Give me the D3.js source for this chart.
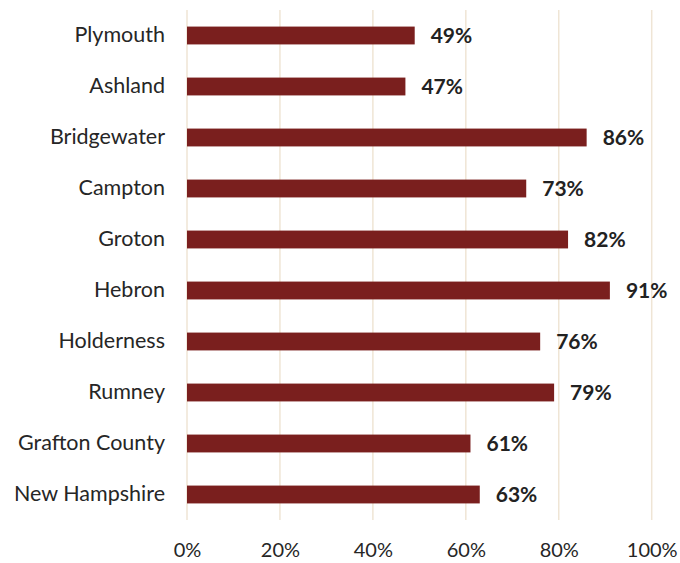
<!DOCTYPE html>
<html>
<head>
<meta charset="utf-8">
<script src="https://cdn.jsdelivr.net/npm/d3@7"></script>
<style>
  body { margin: 0; background: #fff; }
  svg text { font-family: Lato, "Open Sans", sans-serif; }
</style>
</head>
<body>
<div id="chart"></div>
<script>
let towns = ['Plymouth', 'Ashland', 'Bridgewater', 'Campton', 'Groton', 'Hebron',
    'Holderness', 'Rumney', 'Grafton County', 'New Hampshire'];
let shares = [0.49, 0.47, 0.86, 0.73, 0.82, 0.91, 0.76, 0.79, 0.61, 0.63];
let tickValues = [0, 0.2, 0.4, 0.6, 0.8, 1.0];

let data = towns.map((t, i) => ({ town: t, value: shares[i] }));

function getConfiguration() {
    let width = 680, height = 563;
    let margin = { top: 10, right: 28, bottom: 43, left: 187 };
    let chartWidth = width - margin.left - margin.right;
    let chartHeight = height - margin.top - margin.bottom;
    let svg = d3.select('#chart').append('svg')
        .attr('width', width)
        .attr('height', height);
    let chart = svg.append('g')
        .attr('transform', `translate(${margin.left},${margin.top})`);
    return { width, height, margin, chartWidth, chartHeight, chart };
}

function createScaler(config) {
    let { chartWidth, chartHeight } = config;
    let xScaler = d3.scaleLinear().domain([0, 1]).range([0, chartWidth - 0.3]);
    let yScaler = d3.scaleBand()
        .domain(towns)
        .range([0, chartHeight])
        .paddingInner(0.65)
        .paddingOuter(0.325);
    return { xScaler, yScaler };
}

function drawGrid(config, xScaler) {
    let { chart, chartHeight } = config;
    chart.append('g').attr('class', 'grid')
        .selectAll('line')
        .data(tickValues)
        .enter()
        .append('line')
        .attr('x1', d => xScaler(d))
        .attr('x2', d => xScaler(d))
        .attr('y1', 0)
        .attr('y2', chartHeight)
        .attr('stroke', '#efe5d5')
        .attr('stroke-width', 1.5);
}

function drawAxes(config, xScaler, yScaler) {
    let { chart, chartHeight } = config;
    let xAxis = d3.axisBottom(xScaler)
        .tickValues(tickValues)
        .tickFormat(d3.format('.0%'))
        .tickSize(0)
        .tickPadding(23);
    let gx = chart.append('g').attr('class', 'x-axis')
        .attr('transform', `translate(0,${chartHeight})`)
        .call(xAxis);
    gx.select('.domain').remove();
    gx.selectAll('text').attr('font-size', 20).attr('fill', '#262626')
        .style('font-family', 'Lato, sans-serif');

    let yAxis = d3.axisLeft(yScaler).tickSize(0).tickPadding(22);
    let gy = chart.append('g').attr('class', 'y-axis').call(yAxis);
    gy.select('.domain').remove();
    gy.selectAll('text').attr('font-size', 21.5).attr('fill', '#262626')
        .style('font-family', 'Lato, sans-serif');
}

function drawBars(config, xScaler, yScaler) {
    let { chart } = config;
    let barGroup = chart.append('g').attr('class', 'bars');
    barGroup.selectAll('rect')
        .data(data)
        .enter()
        .append('rect')
        .attr('x', xScaler(0))
        .attr('y', d => yScaler(d.town))
        .attr('width', d => xScaler(d.value) - xScaler(0))
        .attr('height', yScaler.bandwidth())
        .attr('fill', '#7a1f1e');

    barGroup.selectAll('text.val')
        .data(data)
        .enter()
        .append('text')
        .attr('class', 'val')
        .attr('x', d => xScaler(d.value) + 16)
        .attr('y', d => yScaler(d.town) + yScaler.bandwidth() / 2)
        .attr('dy', '0.35em')
        .attr('font-size', 21)
        .attr('font-weight', 'bold')
        .attr('fill', '#222')
        .text(d => d3.format('.0%')(d.value));
}

let config = getConfiguration();
let { xScaler, yScaler } = createScaler(config);
drawGrid(config, xScaler);
drawAxes(config, xScaler, yScaler);
drawBars(config, xScaler, yScaler);
</script>
</body>
</html>
